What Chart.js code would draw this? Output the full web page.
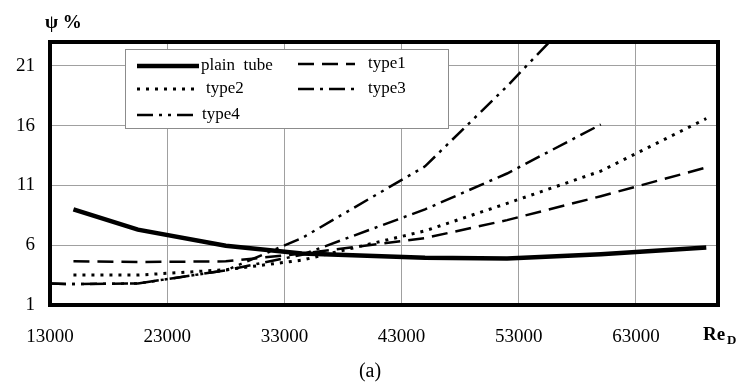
<!DOCTYPE html>
<html>
<head>
<meta charset="utf-8">
<script src="https://cdn.jsdelivr.net/npm/chart.js@4/dist/chart.umd.min.js"></script>
<style>
  html, body { margin: 0; padding: 0; background: #fff; }
  #wrap { width: 741px; height: 385px; position: relative; }
</style>
</head>
<body>
<div id="wrap"><canvas id="chart"></canvas></div>
<script>
// Re_D values shared by all curves (null = no point)
const reValues  = [13000, 15000, 20500, 28000, 34500, 45000, 52000, 60000, 69000];
const plainTube = [null, 9.0, 7.3, 5.95, 5.3, 4.95, 4.9, 5.25, 5.8];
const type1     = [null, 4.65, 4.6, 4.65, 5.3, 6.6, 8.1, 10.1, 12.5];
const type2     = [null, 3.5, 3.5, 3.95, 4.75, 7.2, 9.5, 12.2, 16.6];
const type3     = [2.8, 2.75, 2.8, 3.9, 5.2, 9.0, 12.0, 16.1, null];
const type4     = [2.8, 2.75, 2.8, 3.9, 6.6, 12.6, 19.3, 27.5, null];

const seriesNames = ['plain  tube', 'type1', 'type2', 'type3', 'type4'];
const seriesValues = [plainTube, type1, type2, type3, type4];

const xTicks = [13000, 23000, 33000, 43000, 53000, 63000];
const yTicks = [1, 6, 11, 16, 21];

const FONT = '"Liberation Serif", "DejaVu Serif", serif';

// line style per series
const styles = [
    { width: 4.5, dash: [] },
    { width: 2.5, dash: [16, 8] },
    { width: 3, dash: [3, 6] },
    { width: 2.5, dash: [16, 6, 3, 6] },
    { width: 2.5, dash: [16, 6, 3, 6, 3, 6] }
];

function toPoints(vals) {
    const pts = [];
    vals.forEach((v, i) => { if (v !== null) pts.push({ x: reValues[i], y: v }); });
    return pts;
}

const datasets = seriesNames.map((name, i) => ({
    label: name,
    data: toPoints(seriesValues[i]),
    borderColor: '#000',
    borderWidth: styles[i].width,
    borderDash: styles[i].dash,
    borderCapStyle: 'butt',
    pointRadius: 0,
    fill: false,
    tension: 0
}));

// legend box, frame and texts drawn by hand
const decor = {
    id: 'decor',
    afterDraw(chart) {
        const ctx = chart.ctx;
        const a = chart.chartArea;
        ctx.save();

        // thick frame round the plot
        ctx.strokeStyle = '#000';
        ctx.lineWidth = 4;
        ctx.setLineDash([]);
        ctx.strokeRect(a.left, a.top, a.right - a.left, a.bottom - a.top);

        // legend
        ctx.fillStyle = '#fff';
        ctx.fillRect(125, 49, 323, 79);
        ctx.strokeStyle = '#8c8c8c';
        ctx.lineWidth = 1;
        ctx.strokeRect(125.5, 49.5, 323, 79);

        const items = [
            { i: 0, x1: 137, x2: 199, tx: 201, y: 66 },
            { i: 1, x1: 298, x2: 355, tx: 368, y: 64 },
            { i: 2, x1: 137, x2: 199, tx: 206, y: 89 },
            { i: 3, x1: 298, x2: 355, tx: 368, y: 89 },
            { i: 4, x1: 137, x2: 199, tx: 202, y: 115 }
        ];
        ctx.font = '17px ' + FONT;
        ctx.textBaseline = 'middle';
        ctx.textAlign = 'left';
        items.forEach(it => {
            const s = styles[it.i];
            ctx.strokeStyle = '#000';
            ctx.lineWidth = s.width;
            ctx.setLineDash(s.dash);
            ctx.beginPath();
            ctx.moveTo(it.x1, it.y);
            ctx.lineTo(it.x2, it.y);
            ctx.stroke();
            ctx.setLineDash([]);
            ctx.fillStyle = '#000';
            ctx.fillText(seriesNames[it.i], it.tx, it.y);
        });

        // axis titles
        ctx.fillStyle = '#000';
        ctx.font = 'bold 19px ' + FONT;
        ctx.textBaseline = 'alphabetic';
        ctx.fillText('\u03C8 %', 45, 28);

        ctx.fillText('Re', 703, 340);
        ctx.font = 'bold 13px ' + FONT;
        ctx.fillText('D', 727, 344);

        ctx.font = '20px ' + FONT;
        ctx.textAlign = 'center';
        ctx.fillText('(a)', 370, 377);
        ctx.restore();
    }
};

new Chart(document.getElementById('chart'), {
    type: 'line',
    data: { datasets },
    options: {
        responsive: true,
        maintainAspectRatio: false,
        animation: false,
        layout: { padding: { top: 42, right: 23, left: 0, bottom: 0 } },
        plugins: {
            legend: { display: false },
            tooltip: { enabled: false }
        },
        scales: {
            x: {
                type: 'linear',
                min: 13000,
                max: 70000,
                afterFit: s => { s.height = 80; },
                afterBuildTicks: s => { s.ticks = xTicks.map(v => ({ value: v })); },
                grid: { color: '#a0a0a0', lineWidth: 1, drawTicks: false },
                border: { display: false },
                ticks: {
                    color: '#000',
                    font: { family: FONT, size: 19 },
                    padding: 21,
                    maxRotation: 0,
                    callback: v => String(v)
                }
            },
            y: {
                type: 'linear',
                min: 1,
                max: 23,
                afterFit: s => { s.width = 50; },
                afterBuildTicks: s => { s.ticks = yTicks.map(v => ({ value: v })); },
                grid: { color: '#a0a0a0', lineWidth: 1, drawTicks: false },
                border: { display: false },
                ticks: {
                    color: '#000',
                    font: { family: FONT, size: 19 },
                    padding: 15,
                    callback: v => String(v)
                }
            }
        }
    },
    plugins: [decor]
});
</script>
</body>
</html>
